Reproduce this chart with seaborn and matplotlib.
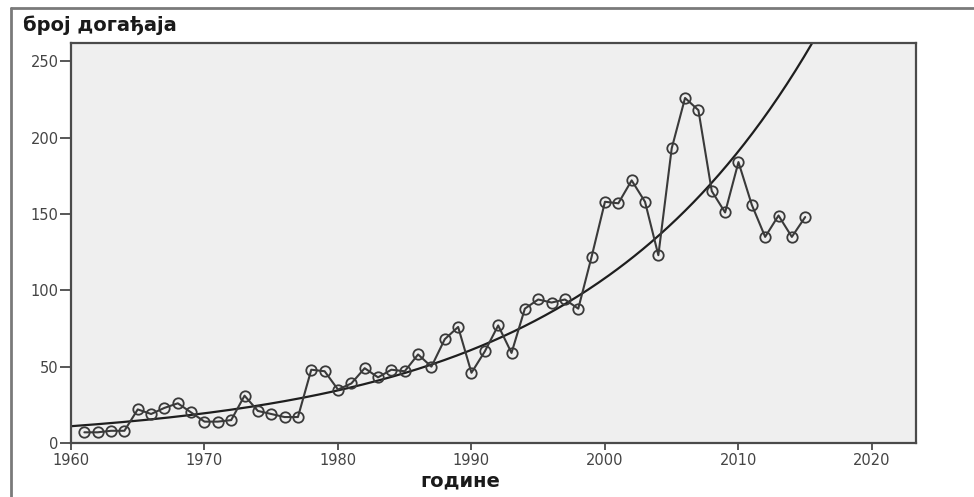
import numpy as np
import pandas as pd
import matplotlib
matplotlib.use("Agg")
import matplotlib.pyplot as plt
from matplotlib.lines import Line2D
import seaborn as sns

# ---- data ----
years = list(range(1961, 2016))
events = [7, 7, 8, 8, 22, 19, 23, 26, 20, 14,
          14, 15, 31, 21, 19, 17, 17, 48, 47, 35,
          39, 49, 43, 48, 47, 58, 50, 68, 76, 46,
          60, 77, 59, 88, 94, 92, 94, 88, 122, 158,
          157, 172, 158, 123, 193, 226, 218, 165, 151, 184,
          156, 135, 149, 135, 148]
x_ticks = [1960, 1970, 1980, 1990, 2000, 2010, 2020]
y_ticks = [0, 50, 100, 150, 200, 250]
title_text = "број догађаја"
xlabel_text = "године"
# exponential trend model: y = A * exp(B * (year - 1960))
fit_a = 11.0
fit_b = 0.0571

df = pd.DataFrame({"year": years, "events": events})
curve_years = np.linspace(1960, 2023.3, 400)
curve = pd.DataFrame({"year": curve_years,
                      "fit": fit_a * np.exp(fit_b * (curve_years - 1960))})

sns.set_style("white")
plt.rcParams["font.family"] = ["DejaVu Sans"]

fig = plt.figure(figsize=(9.74, 4.97), dpi=100)
ax = fig.add_axes([71 / 974, 1 - 443 / 497, (916 - 71) / 974, (443 - 43) / 497])
ax.set_facecolor("#efefef")

sns.lineplot(data=curve, x="year", y="fit", ax=ax, color="#1e1e1e", linewidth=1.6)
sns.lineplot(data=df, x="year", y="events", ax=ax, color="#3a3a3a", linewidth=1.5,
             marker="o", markersize=7.5, markerfacecolor="none",
             markeredgecolor="#3a3a3a", markeredgewidth=1.3)

ax.set_xlim(1960, 2023.3)
ax.set_ylim(0, 262)
ax.set_xticks(x_ticks)
ax.set_yticks(y_ticks)
ax.set_xlabel("")
ax.set_ylabel("")

for s in ax.spines.values():
    s.set_visible(True)
    s.set_color("#4a4a4a")
    s.set_linewidth(1.6)

ax.tick_params(axis="x", direction="out", length=5, width=1.3, color="#4a4a4a",
               labelsize=10.5, labelcolor="#444444", pad=2, bottom=True)
ax.tick_params(axis="y", direction="out", length=8, width=1.3, color="#4a4a4a",
               labelsize=10.5, labelcolor="#444444", pad=1, left=True)

fig.text(23 / 974, 1 - 25 / 497, title_text, fontsize=14, fontweight="bold",
         color="#1a1a1a", ha="left", va="center")
fig.text(460 / 974, 1 - 481 / 497, xlabel_text, fontsize=14, fontweight="bold",
         color="#1a1a1a", ha="center", va="center")

# outer frame (partially visible)
fig.add_artist(Line2D([11 / 974, 11 / 974], [0, 1 - 8 / 497],
                      transform=fig.transFigure, color="#7a7a7a", linewidth=2))
fig.add_artist(Line2D([11 / 974, 1], [1 - 8 / 497, 1 - 8 / 497],
                      transform=fig.transFigure, color="#7a7a7a", linewidth=2))

fig.savefig("out.png", dpi=100)
